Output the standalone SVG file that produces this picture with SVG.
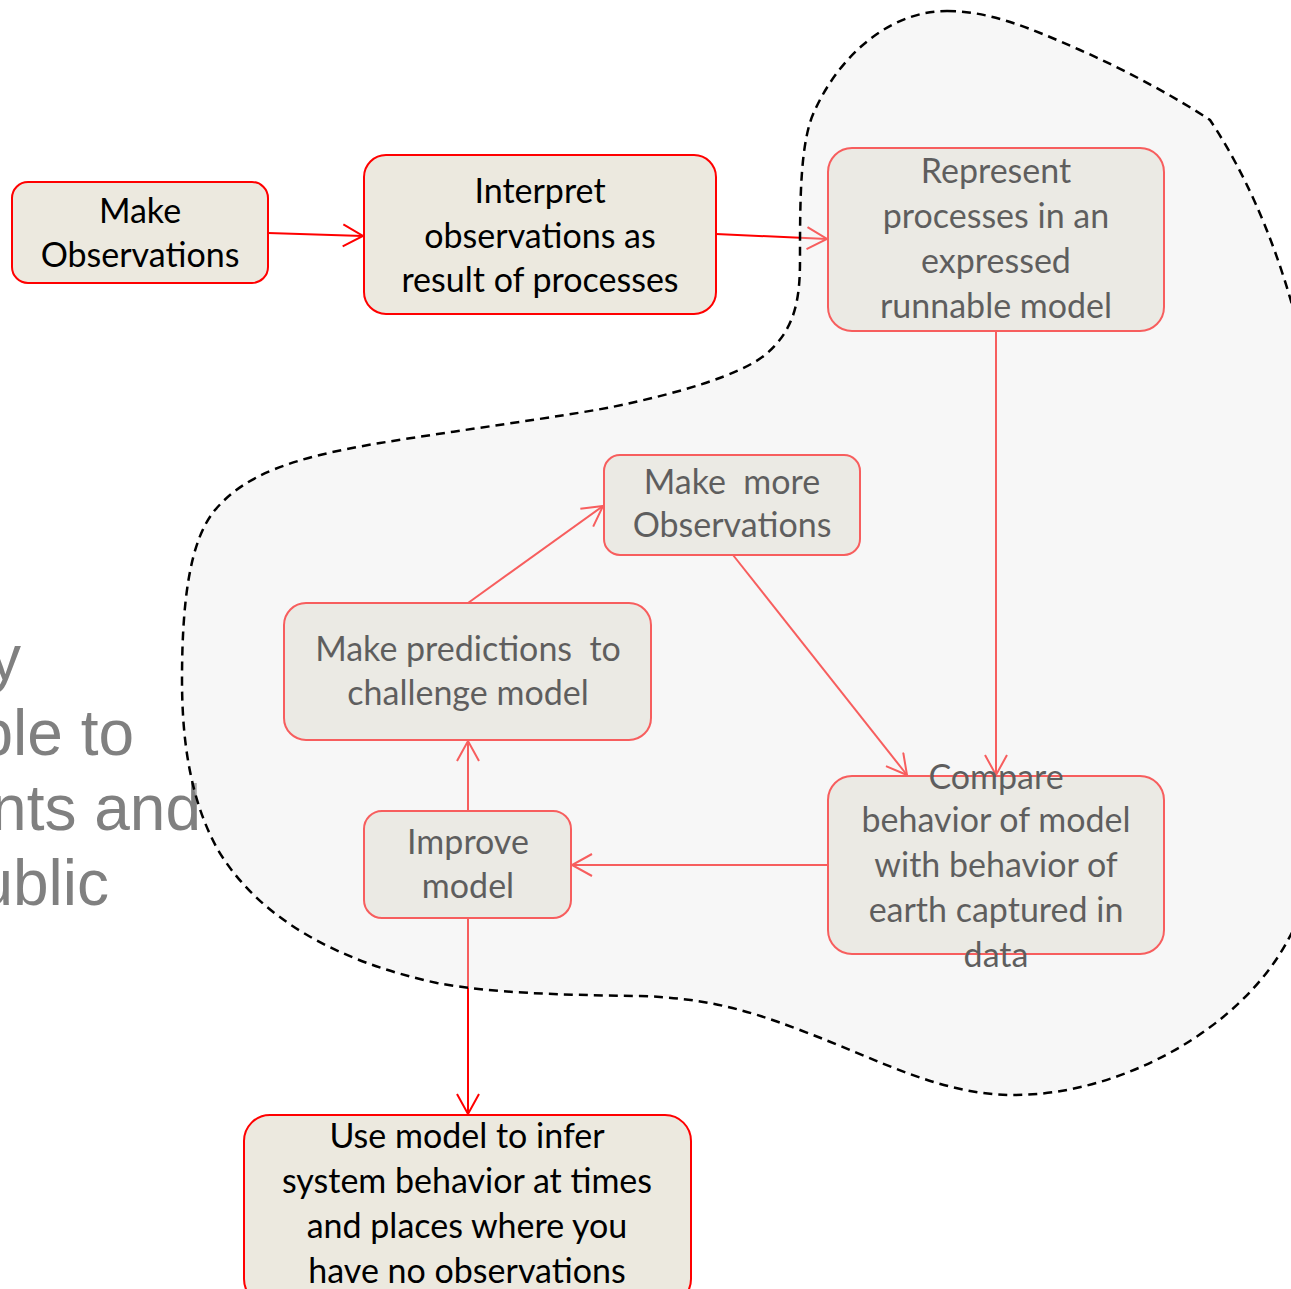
<svg xmlns="http://www.w3.org/2000/svg" width="1291" height="1289" viewBox="0 0 1291 1289">
<style>
.box{fill:#ece9df;stroke:#ff0000;stroke-width:2}
.t{font-family:Lato,"Liberation Sans",sans-serif;font-size:34px;fill:#000;text-anchor:middle}
.side{font-family:"Liberation Sans",Arial,sans-serif;font-size:64px;fill:#808080;text-anchor:end}
.c{stroke:#ff0000;stroke-width:2;fill:none;marker-end:url(#arr)}
.blob{fill:#ececec;fill-opacity:0.4;stroke:#000;stroke-width:2.5;stroke-dasharray:9 6}
</style>
<defs>
<marker id="arr" markerUnits="userSpaceOnUse" markerWidth="24" markerHeight="26" refX="21" refY="12" orient="auto">
<path d="M1,1 L21,12 L1,23" fill="none" stroke="#ff0000" stroke-width="2"/>
</marker>
</defs>
<rect width="1291" height="1289" fill="#fff"/>
<g id="side-text">
<text class="side" x="21" y="680">y</text>
<text class="side" x="134" y="755">ble to</text>
<text class="side" x="201" y="830">nts and</text>
<text class="side" x="109" y="905">ublic</text>
</g>
<g id="connectors">
<line class="c" x1="268" y1="233" x2="363" y2="236"/>
<line class="c" x1="716" y1="234" x2="827" y2="239"/>
<line class="c" x1="996" y1="331" x2="996" y2="775"/>
<line class="c" x1="733" y1="555" x2="907" y2="775"/>
<line class="c" x1="828" y1="865" x2="572" y2="865"/>
<line class="c" x1="468" y1="811" x2="468" y2="741"/>
<line class="c" x1="468" y1="603" x2="603" y2="506"/>
<line class="c" x1="468" y1="918" x2="468" y2="1114"/>
</g>
<g id="n-make-observations">
<rect class="box" x="12" y="182" width="256" height="101" rx="16"/>
<text class="t" x="140" y="223">Make</text>
<text class="t" x="140" y="267">Observations</text>
</g>
<g id="n-interpret">
<rect class="box" x="364" y="155" width="352" height="159" rx="22"/>
<text class="t" x="540" y="203">Interpret</text>
<text class="t" x="540" y="248">observations as</text>
<text class="t" x="540" y="292">result of processes</text>
</g>
<g id="n-represent">
<rect class="box" x="828" y="148" width="336" height="183" rx="24"/>
<text class="t" x="996" y="183">Represent</text>
<text class="t" x="996" y="228">processes in an</text>
<text class="t" x="996" y="273">expressed</text>
<text class="t" x="996" y="318">runnable model</text>
</g>
<g id="n-make-more">
<rect class="box" x="604" y="455" width="256" height="100" rx="16"/>
<text class="t" x="732" y="494" style="white-space:pre">Make  more</text>
<text class="t" x="732" y="537">Observations</text>
</g>
<g id="n-predictions">
<rect class="box" x="284" y="603" width="367" height="137" rx="22"/>
<text class="t" x="468" y="661" style="white-space:pre">Make predictions  to</text>
<text class="t" x="468" y="705">challenge model</text>
</g>
<g id="n-improve">
<rect class="box" x="364" y="811" width="207" height="107" rx="18"/>
<text class="t" x="468" y="854">Improve</text>
<text class="t" x="468" y="898">model</text>
</g>
<g id="n-compare">
<rect class="box" x="828" y="776" width="336" height="178" rx="24"/>
<text class="t" x="996" y="789">Compare</text>
<text class="t" x="996" y="832">behavior of model</text>
<text class="t" x="996" y="877">with behavior of</text>
<text class="t" x="996" y="922">earth captured in</text>
<text class="t" x="996" y="967">data</text>
</g>
<g id="n-use-model">
<rect class="box" x="244" y="1115" width="447" height="190" rx="26"/>
<text class="t" x="467" y="1148">Use model to infer</text>
<text class="t" x="467" y="1193">system behavior at times</text>
<text class="t" x="467" y="1238">and places where you</text>
<text class="t" x="467" y="1283">have no observations</text>
</g>
<path id="blob" class="blob" d="M947,11 C990,11 1030,28 1080,50 C1130,72 1180,100 1210,120 C1250,180 1330,330 1330,600 C1330,850 1310,900 1288,940 C1240,1030 1120,1095 1014,1095 C940,1095 880,1060 800,1030 C740,1007 700,998 640,996 C560,995 490,993 437,983 C340,962 260,920 218,850 C190,800 182,740 182,680 C182,600 190,540 215,510 C245,475 290,458 380,443 C460,430 560,417 612,407 C680,393 740,375 765,355 C795,330 800,300 800,260 C800,200 800,140 815,110 C840,55 890,11 947,11 Z"/>
</svg>
